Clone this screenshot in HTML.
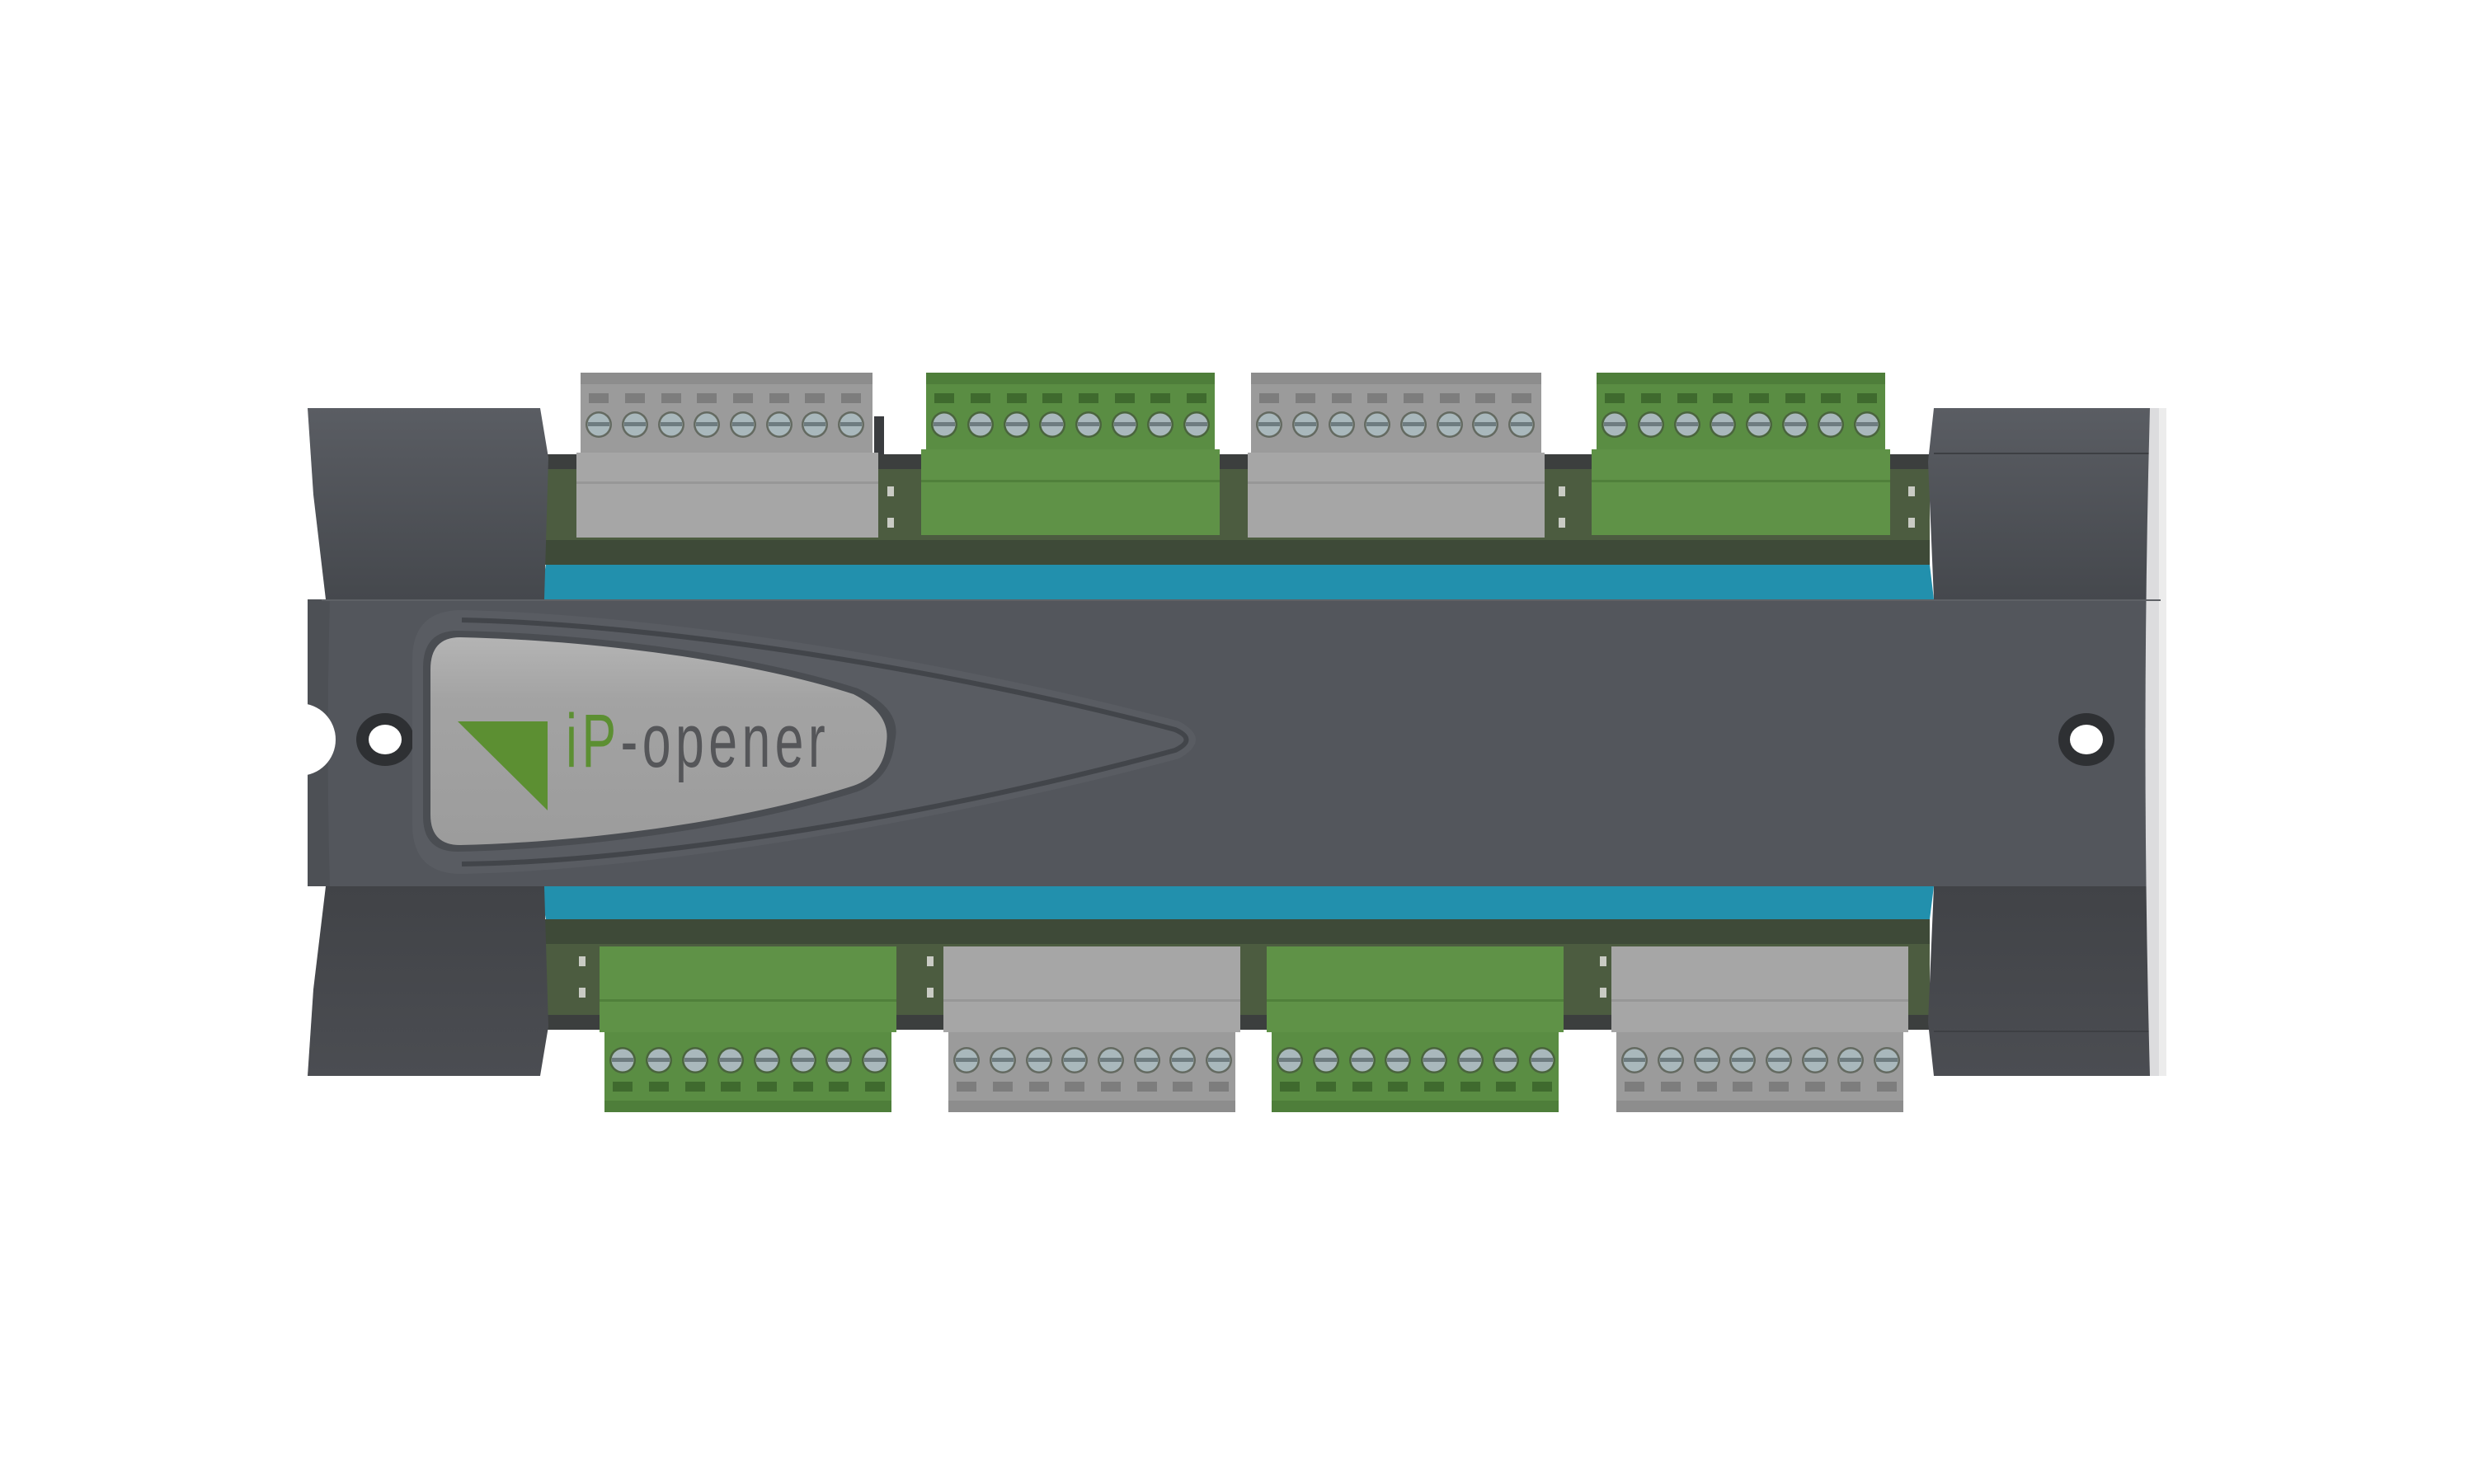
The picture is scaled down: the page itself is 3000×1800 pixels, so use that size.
<!DOCTYPE html>
<html><head><meta charset="utf-8"><style>html,body{margin:0;padding:0;background:#fff}svg{display:block}</style></head>
<body>
<svg width="3000" height="1800" viewBox="0 0 3000 1800" xmlns="http://www.w3.org/2000/svg">
<defs>
<g id="scr">
<circle r="16" fill="#3f4a3a" opacity="0.6"/>
<circle r="13.5" fill="#a9b8bc"/>
<rect x="-13" y="-3" width="26" height="5" fill="#6e7c80"/>
</g>
<g id="screws">
<use href="#scr" x="22"/><use href="#scr" x="66"/><use href="#scr" x="110"/><use href="#scr" x="153"/>
<use href="#scr" x="197"/><use href="#scr" x="241"/><use href="#scr" x="284"/><use href="#scr" x="328"/>
</g>
<g id="slots">
<rect x="10" width="24" height="12"/><rect x="54" width="24" height="12"/><rect x="98" width="24" height="12"/><rect x="141" width="24" height="12"/>
<rect x="185" width="24" height="12"/><rect x="229" width="24" height="12"/><rect x="272" width="24" height="12"/><rect x="316" width="24" height="12"/>
</g>
<linearGradient id="endT" x1="0" y1="0" x2="0" y2="1"><stop offset="0" stop-color="#5a5d63"/><stop offset="1" stop-color="#45484d"/></linearGradient>
<linearGradient id="endB" x1="0" y1="0" x2="0" y2="1"><stop offset="0" stop-color="#414347"/><stop offset="1" stop-color="#4b4d52"/></linearGradient>
<linearGradient id="plate" x1="0" y1="0" x2="0" y2="1"><stop offset="0" stop-color="#b4b4b4"/><stop offset="0.3" stop-color="#a3a3a3"/><stop offset="1" stop-color="#9c9c9c"/></linearGradient>
</defs>

<rect x="660" y="551" width="1680" height="134" fill="#4c5c40"/>
<rect x="660" y="551" width="1680" height="18" fill="#3c3f3e"/>
<rect x="660" y="1115" width="1680" height="134" fill="#4c5c40"/>
<rect x="660" y="1231" width="1680" height="18" fill="#3c3f3e"/>
<g fill="#3e4a38">
<rect x="660" y="655" width="1680" height="30"/>
<rect x="660" y="1115" width="1680" height="30"/>
</g>
<g fill="#c9cbc4">
<rect x="1076" y="590" width="8" height="12"/><rect x="1076" y="628" width="8" height="12"/>
<rect x="1890" y="590" width="8" height="12"/><rect x="1890" y="628" width="8" height="12"/>
<rect x="2314" y="590" width="8" height="12"/><rect x="2314" y="628" width="8" height="12"/>
<rect x="702" y="1160" width="8" height="12"/><rect x="702" y="1198" width="8" height="12"/>
<rect x="1124" y="1160" width="8" height="12"/><rect x="1124" y="1198" width="8" height="12"/>
<rect x="1940" y="1160" width="8" height="12"/><rect x="1940" y="1198" width="8" height="12"/>
</g>
<rect x="1060" y="505" width="12" height="46" fill="#3a3c3f"/>

<polygon points="662,685 2340,685 2345,727 654,727" fill="#2290ad"/>
<polygon points="654,1075 2345,1075 2340,1115 662,1115" fill="#2290ad"/>

<rect x="390" y="727" width="2230" height="348" fill="#53565c"/>
<polygon points="373,495 655,495 665,555 660,727 395,727 380,600" fill="url(#endT)"/>
<polygon points="373,1305 655,1305 665,1245 660,1075 395,1075 380,1200" fill="url(#endB)"/>
<path d="M373,727 L400,727 Q395,900 400,1075 L373,1075 Z" fill="#4d5055"/>
<path d="M2345,495 L2627,495 L2627,700 Q2612,705 2605,727 L2345,727 L2338,560 Z" fill="url(#endT)"/>
<rect x="2345" y="549" width="282" height="2" fill="#3d3f43"/>
<path d="M2345,1305 L2627,1305 L2627,1100 Q2612,1095 2605,1075 L2345,1075 L2338,1240 Z" fill="url(#endB)"/>
<rect x="2345" y="1250" width="282" height="2" fill="#3d3f43"/>
<path d="M2605,727 Q2612,705 2627,700 L2627,1100 Q2612,1095 2605,1075 Z" fill="#d8d9db"/>
<path d="M2607,495 L2627,495 L2627,1305 L2607,1305 Q2596,900 2607,495 Z" fill="#dcdcde"/>
<rect x="2618" y="495" width="9" height="810" fill="#ececec"/>
<rect x="390" y="727" width="2230" height="2" fill="#5e6166"/>

<circle cx="363" cy="897" r="44" fill="#fff"/>
<ellipse cx="467" cy="897" rx="35" ry="32" fill="#2e3033"/>
<ellipse cx="467" cy="897" rx="20" ry="18" fill="#fff"/>
<ellipse cx="2530" cy="897" rx="34" ry="32" fill="#2e3033"/>
<ellipse cx="2530" cy="897" rx="20" ry="18" fill="#fff"/>

<path d="M560,740 C800,745 1150,800 1430,875 Q1470,897 1430,920 C1150,995 800,1055 560,1060 Q500,1060 500,1000 L500,800 Q500,740 560,740 Z" fill="#595c62"/>
<path d="M560,752 C800,757 1150,812 1425,885 Q1452,897 1425,910 C1150,985 800,1045 560,1048" fill="none" stroke="#42454a" stroke-width="6"/>
<path d="M555,765 C700,768 900,790 1040,835 Q1095,860 1085,900 Q1080,945 1040,960 C900,1005 700,1030 555,1033 Q513,1033 513,990 L513,810 Q513,765 555,765 Z" fill="#4a4d52"/>
<path d="M558,773 C700,776 895,797 1035,842 Q1080,865 1075,900 Q1072,940 1035,953 C895,998 700,1022 558,1025 Q522,1025 522,988 L522,812 Q522,773 558,773 Z" fill="url(#plate)"/>
<polygon points="555,875 664,875 664,983" fill="#5c8f32"/>
<text x="686" y="930" font-family="'Liberation Sans',sans-serif" font-size="92" font-weight="400" letter-spacing="8" transform="translate(686,0) scale(0.68,1) translate(-686,0)"><tspan fill="#5c8f32">iP</tspan><tspan fill="#555659">-opener</tspan></text>

<g transform="translate(704,452)">
<rect x="0" y="0" width="354" height="100" fill="#9b9b9b"/><rect x="0" y="0" width="354" height="14" fill="#8d8d8d"/>
<g fill="#7d7d7d" transform="translate(0,25)"><use href="#slots"/></g>
<g transform="translate(0,63)"><use href="#screws"/></g>
<rect x="-5" y="97" width="366" height="103" fill="#a6a6a6"/><rect x="-5" y="132" width="366" height="3" fill="#979797"/>
</g>
<g transform="translate(1123,452)">
<rect x="0" y="0" width="350" height="100" fill="#5a8d43"/><rect x="0" y="0" width="350" height="14" fill="#4e7e3a"/>
<g fill="#3f6a2e" transform="translate(0,25)"><use href="#slots"/></g>
<g transform="translate(0,63)"><use href="#screws"/></g>
<rect x="-6" y="93" width="362" height="104" fill="#5f9247"/><rect x="-6" y="130" width="362" height="3" fill="#50803b"/>
</g>
<g transform="translate(1517,452)">
<rect x="0" y="0" width="352" height="100" fill="#9b9b9b"/><rect x="0" y="0" width="352" height="14" fill="#8d8d8d"/>
<g fill="#7d7d7d" transform="translate(0,25)"><use href="#slots"/></g>
<g transform="translate(0,63)"><use href="#screws"/></g>
<rect x="-4" y="97" width="360" height="103" fill="#a6a6a6"/><rect x="-4" y="132" width="360" height="3" fill="#979797"/>
</g>
<g transform="translate(1936,452)">
<rect x="0" y="0" width="350" height="100" fill="#5a8d43"/><rect x="0" y="0" width="350" height="14" fill="#4e7e3a"/>
<g fill="#3f6a2e" transform="translate(0,25)"><use href="#slots"/></g>
<g transform="translate(0,63)"><use href="#screws"/></g>
<rect x="-6" y="93" width="362" height="104" fill="#5f9247"/><rect x="-6" y="130" width="362" height="3" fill="#50803b"/>
</g>

<g transform="translate(733,1249)">
<rect x="0" y="0" width="348" height="100" fill="#5a8d43"/><rect x="0" y="86" width="348" height="14" fill="#4e7e3a"/>
<g fill="#3f6a2e" transform="translate(0,63)"><use href="#slots"/></g>
<g transform="translate(0,37)"><use href="#screws"/></g>
<rect x="-6" y="-101" width="360" height="104" fill="#5f9247"/><rect x="-6" y="-37" width="360" height="3" fill="#50803b"/>
</g>
<g transform="translate(1150,1249)">
<rect x="0" y="0" width="348" height="100" fill="#9b9b9b"/><rect x="0" y="86" width="348" height="14" fill="#8d8d8d"/>
<g fill="#7d7d7d" transform="translate(0,63)"><use href="#slots"/></g>
<g transform="translate(0,37)"><use href="#screws"/></g>
<rect x="-6" y="-101" width="360" height="104" fill="#a6a6a6"/><rect x="-6" y="-37" width="360" height="3" fill="#979797"/>
</g>
<g transform="translate(1542,1249)">
<rect x="0" y="0" width="348" height="100" fill="#5a8d43"/><rect x="0" y="86" width="348" height="14" fill="#4e7e3a"/>
<g fill="#3f6a2e" transform="translate(0,63)"><use href="#slots"/></g>
<g transform="translate(0,37)"><use href="#screws"/></g>
<rect x="-6" y="-101" width="360" height="104" fill="#5f9247"/><rect x="-6" y="-37" width="360" height="3" fill="#50803b"/>
</g>
<g transform="translate(1960,1249)">
<rect x="0" y="0" width="348" height="100" fill="#9b9b9b"/><rect x="0" y="86" width="348" height="14" fill="#8d8d8d"/>
<g fill="#7d7d7d" transform="translate(0,63)"><use href="#slots"/></g>
<g transform="translate(0,37)"><use href="#screws"/></g>
<rect x="-6" y="-101" width="360" height="104" fill="#a6a6a6"/><rect x="-6" y="-37" width="360" height="3" fill="#979797"/>
</g>
</svg>
</body></html>
